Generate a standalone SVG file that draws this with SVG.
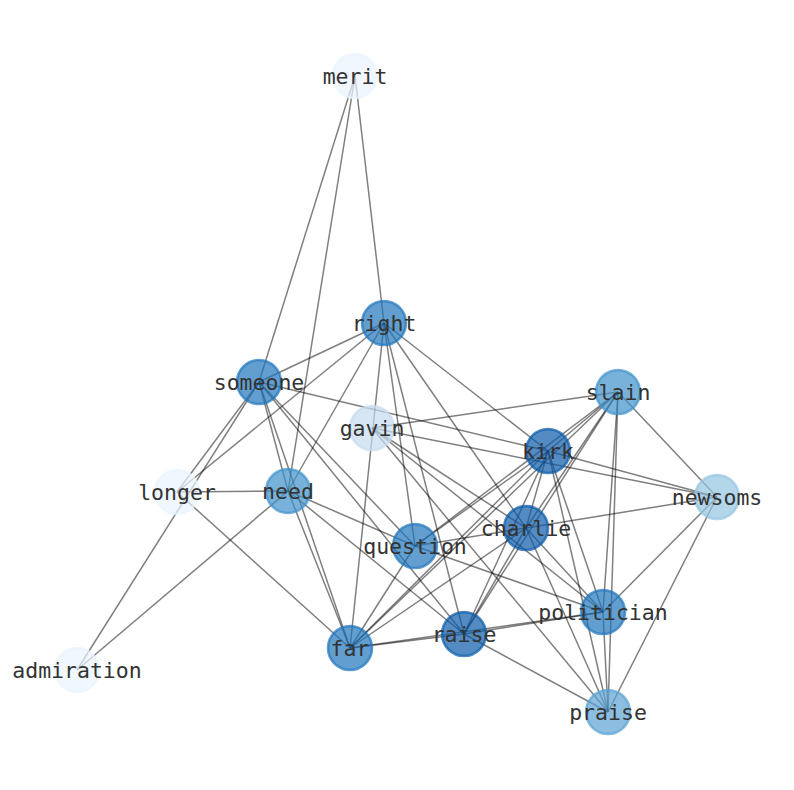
<svg xmlns="http://www.w3.org/2000/svg" width="794" height="790" viewBox="0 0 794 790">
<style>
.e line{stroke:#000;stroke-opacity:0.5;stroke-width:1.5}
.n circle{stroke-width:2.5;fill-opacity:0.7;stroke-opacity:0.7}
.n text{font-family:"DejaVu Sans Mono","Liberation Mono",monospace;font-size:21.5px;fill:#333;text-anchor:middle;dominant-baseline:central}
.c0 circle{fill:#eaf3fd;stroke:#eaf3fd}
.c1 circle{fill:#c6dbef;stroke:#c6dbef}
.c2 circle{fill:#94c5e1;stroke:#94c5e1}
.c3 circle{fill:#5ba3d4;stroke:#5ba3d4}
.c4 circle{fill:#3e91ca;stroke:#3e91ca}
.c5 circle{fill:#1f75bb;stroke:#1f75bb}
.c6 circle{fill:#0a5aa8;stroke:#0a5aa8}
</style>
<rect width="794" height="790" fill="#fff"/>
<g id="edges" class="e">
<line x1="355" y1="76" x2="259" y2="382"/>
<line x1="355" y1="76" x2="288" y2="491"/>
<line x1="355" y1="76" x2="384" y2="323"/>
<line x1="384" y1="323" x2="259" y2="382"/>
<line x1="384" y1="323" x2="177" y2="492"/>
<line x1="384" y1="323" x2="288" y2="491"/>
<line x1="384" y1="323" x2="350" y2="648"/>
<line x1="384" y1="323" x2="415" y2="546"/>
<line x1="384" y1="323" x2="464" y2="634"/>
<line x1="384" y1="323" x2="526" y2="528"/>
<line x1="384" y1="323" x2="548" y2="451"/>
<line x1="259" y1="382" x2="177" y2="492"/>
<line x1="259" y1="382" x2="77" y2="670"/>
<line x1="259" y1="382" x2="288" y2="491"/>
<line x1="259" y1="382" x2="350" y2="648"/>
<line x1="259" y1="382" x2="415" y2="546"/>
<line x1="259" y1="382" x2="464" y2="634"/>
<line x1="259" y1="382" x2="548" y2="451"/>
<line x1="177" y1="492" x2="288" y2="491"/>
<line x1="177" y1="492" x2="350" y2="648"/>
<line x1="77" y1="670" x2="288" y2="491"/>
<line x1="288" y1="491" x2="350" y2="648"/>
<line x1="288" y1="491" x2="415" y2="546"/>
<line x1="288" y1="491" x2="464" y2="634"/>
<line x1="372" y1="428" x2="618" y2="392"/>
<line x1="372" y1="428" x2="717" y2="497"/>
<line x1="372" y1="428" x2="526" y2="528"/>
<line x1="372" y1="428" x2="603" y2="612"/>
<line x1="372" y1="428" x2="608" y2="712"/>
<line x1="548" y1="451" x2="717" y2="497"/>
<line x1="548" y1="451" x2="618" y2="392"/>
<line x1="548" y1="451" x2="415" y2="546"/>
<line x1="548" y1="451" x2="464" y2="634"/>
<line x1="548" y1="451" x2="350" y2="648"/>
<line x1="548" y1="451" x2="526" y2="528"/>
<line x1="548" y1="451" x2="603" y2="612"/>
<line x1="548" y1="451" x2="608" y2="712"/>
<line x1="618" y1="392" x2="717" y2="497"/>
<line x1="618" y1="392" x2="526" y2="528"/>
<line x1="618" y1="392" x2="415" y2="546"/>
<line x1="618" y1="392" x2="464" y2="634"/>
<line x1="618" y1="392" x2="350" y2="648"/>
<line x1="618" y1="392" x2="603" y2="612"/>
<line x1="618" y1="392" x2="608" y2="712"/>
<line x1="526" y1="528" x2="717" y2="497"/>
<line x1="526" y1="528" x2="415" y2="546"/>
<line x1="526" y1="528" x2="464" y2="634"/>
<line x1="526" y1="528" x2="350" y2="648"/>
<line x1="526" y1="528" x2="603" y2="612"/>
<line x1="526" y1="528" x2="608" y2="712"/>
<line x1="415" y1="546" x2="603" y2="612"/>
<line x1="415" y1="546" x2="350" y2="648"/>
<line x1="350" y1="648" x2="464" y2="634"/>
<line x1="350" y1="648" x2="603" y2="612"/>
<line x1="464" y1="634" x2="603" y2="612"/>
<line x1="464" y1="634" x2="608" y2="712"/>
<line x1="717" y1="497" x2="603" y2="612"/>
<line x1="717" y1="497" x2="608" y2="712"/>
<line x1="603" y1="612" x2="608" y2="712"/>
</g>
<g id="merit" class="n c0"><circle cx="355" cy="76" r="22"/><text x="355" y="76">merit</text></g>
<g id="right" class="n c5"><circle cx="384" cy="323" r="22"/><text x="384" y="323">right</text></g>
<g id="someone" class="n c5"><circle cx="259" cy="382" r="22"/><text x="259" y="382">someone</text></g>
<g id="slain" class="n c4"><circle cx="618" cy="392" r="22"/><text x="618" y="392">slain</text></g>
<g id="gavin" class="n c1"><circle cx="372" cy="428" r="22"/><text x="372" y="428">gavin</text></g>
<g id="kirk" class="n c6"><circle cx="548" cy="451" r="22"/><text x="548" y="451">kirk</text></g>
<g id="longer" class="n c0"><circle cx="177" cy="492" r="22"/><text x="177" y="492">longer</text></g>
<g id="need" class="n c4"><circle cx="288" cy="491" r="22"/><text x="288" y="491">need</text></g>
<g id="newsoms" class="n c2"><circle cx="717" cy="497" r="22"/><text x="717" y="497">newsoms</text></g>
<g id="charlie" class="n c6"><circle cx="526" cy="528" r="22"/><text x="526" y="528">charlie</text></g>
<g id="question" class="n c5"><circle cx="415" cy="546" r="22"/><text x="415" y="546">question</text></g>
<g id="politician" class="n c5"><circle cx="603" cy="612" r="22"/><text x="603" y="612">politician</text></g>
<g id="raise" class="n c6"><circle cx="464" cy="634" r="22"/><text x="464" y="634">raise</text></g>
<g id="far" class="n c5"><circle cx="350" cy="648" r="22"/><text x="350" y="648">far</text></g>
<g id="admiration" class="n c0"><circle cx="77" cy="670" r="22"/><text x="77" y="670">admiration</text></g>
<g id="praise" class="n c3"><circle cx="608" cy="712" r="22"/><text x="608" y="712">praise</text></g>
</svg>
